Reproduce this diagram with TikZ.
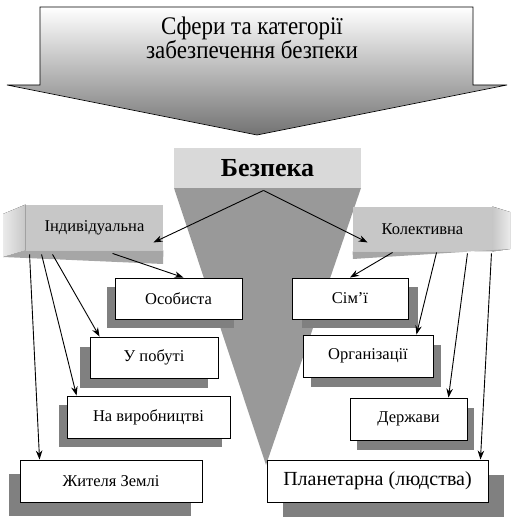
\documentclass[tikz,border=0pt]{standalone}
\usepackage{fontspec}
\setmainfont{Liberation Serif}
\usetikzlibrary{arrows.meta,shadows}

\tikzset{
  cat/.style={draw,fill=white,inner sep=0pt,minimum height=42pt,
              font=\fontsize{16.5}{18}\selectfont},
  shad/.style 2 args={drop shadow={shadow xshift=#1,shadow yshift=#2,
              fill=black!50,opacity=1}},
  face/.style={fill=black!22,inner sep=0pt,font=\fontsize{16.5}{18}\selectfont},
}

\begin{document}
\begin{tikzpicture}[x=1pt,y=-1pt,>={Stealth[length=9pt,width=6.5pt]},line width=0.9pt]
  \useasboundingbox (0,0) rectangle (522,524);

  % big arrow on top
  \draw[line width=0.6pt,top color=white,bottom color=black!55]
    (40,7) -- (473,7) -- (473,85) -- (507,85) -- (257,135) -- (7,85) -- (40,85) -- cycle;
  \node[font=\fontsize{23}{23}\selectfont,align=center] (title) at (252,38)
    {\scalebox{1}[1.1]{Сфери та категорії}\\\scalebox{1}[1.1]{забезпечення безпеки}};

  % funnel and main box
  \fill[black!40] (174,188) -- (361,188) -- (266,465) -- cycle;
  \node[fill=black!15,minimum width=187pt,minimum height=40pt,inner sep=0pt,
        font=\fontsize{26}{28}\selectfont\bfseries] (bez) at (267.5,168) {Безпека};

  % the two categories
  \node[face,minimum width=137pt,minimum height=45pt] (ind) at (94.5,227.5) {Індивідуальна\hspace{22pt}};
  \fill[left color=black!8,right color=black!22]
    (3,214) -- (ind.north west) -- (ind.south west) -- (3,257) -- cycle;
  \fill[black!35] (3,257) -- (ind.south west) -- (ind.south east) -- (163,264) -- cycle;

  \node[face,minimum width=139pt,minimum height=44pt] (kol) at (422.5,229) {Колективна\hspace{4pt}};
  \fill[left color=black!22,right color=black!8]
    (kol.north east) -- (510,212) -- (510,249) -- (kol.south east) -- cycle;
  \fill[black!35] (kol.south west) -- (kol.south east) -- (510,249) -- (353,259) -- cycle;

  % spheres
  \node[cat,shad={-8pt}{-9pt},minimum width=127pt,minimum height=41pt] (os) at (178.5,298.5) {Особиста};
  \node[cat,shad={-10pt}{-10pt},minimum width=128pt,minimum height=41pt] (pob) at (154,357.5) {У побуті};
  \node[cat,shad={-8pt}{-9pt},minimum width=163pt] (vyr) at (148.5,417) {На виробництві};
  \node[cat,shad={-11pt}{-14pt},minimum width=182pt] (zem) at (111,481) {Жителя Землі};

  \node[cat,shad={10pt}{-9pt},minimum width=116pt,minimum height=41pt] (sim) at (350,298.5) {Сім’ї};
  \node[cat,shad={8pt}{-10pt},minimum width=130pt] (org) at (368,356) {Організації};
  \node[cat,shad={7pt}{-10pt},minimum width=117pt] (der) at (408.5,419) {Держави};
  \node[cat,shad={16pt}{-15pt},minimum width=221pt,
        font=\fontsize{20}{22}\selectfont] (plan) at (377.5,481) {Планетарна (людства)};

  \path[->]
    ([xshift=-4pt,yshift=-2pt]bez.south) edge ([xshift=-10pt,yshift=8pt]ind.south east)
    ([xshift=-4pt,yshift=-2pt]bez.south) edge ([xshift=15pt,yshift=9pt]kol.south west)
    ([xshift=87pt,yshift=-3pt]ind.south west) edge ([xshift=5pt]os.north)
    ([xshift=27pt,yshift=-4pt]ind.south west) edge ([xshift=10pt]pob.north west)
    ([xshift=16pt,yshift=-4pt]ind.south west) edge ([xshift=10pt]vyr.north west)
    ([xshift=4pt,yshift=-4pt]ind.south west)  edge ([xshift=20pt]zem.north west)
    ([xshift=40pt,yshift=-1pt]kol.south west) edge (sim.north)
    ([xshift=84pt,yshift=-1pt]kol.south west) edge ([xshift=-17pt]org.north east)
    ([xshift=-25pt,yshift=-2pt]kol.south east) edge ([xshift=-19pt]der.north east)
    ([xshift=-1pt,yshift=-2pt]kol.south east) edge ([xshift=-8pt]plan.north east);
\end{tikzpicture}
\end{document}
